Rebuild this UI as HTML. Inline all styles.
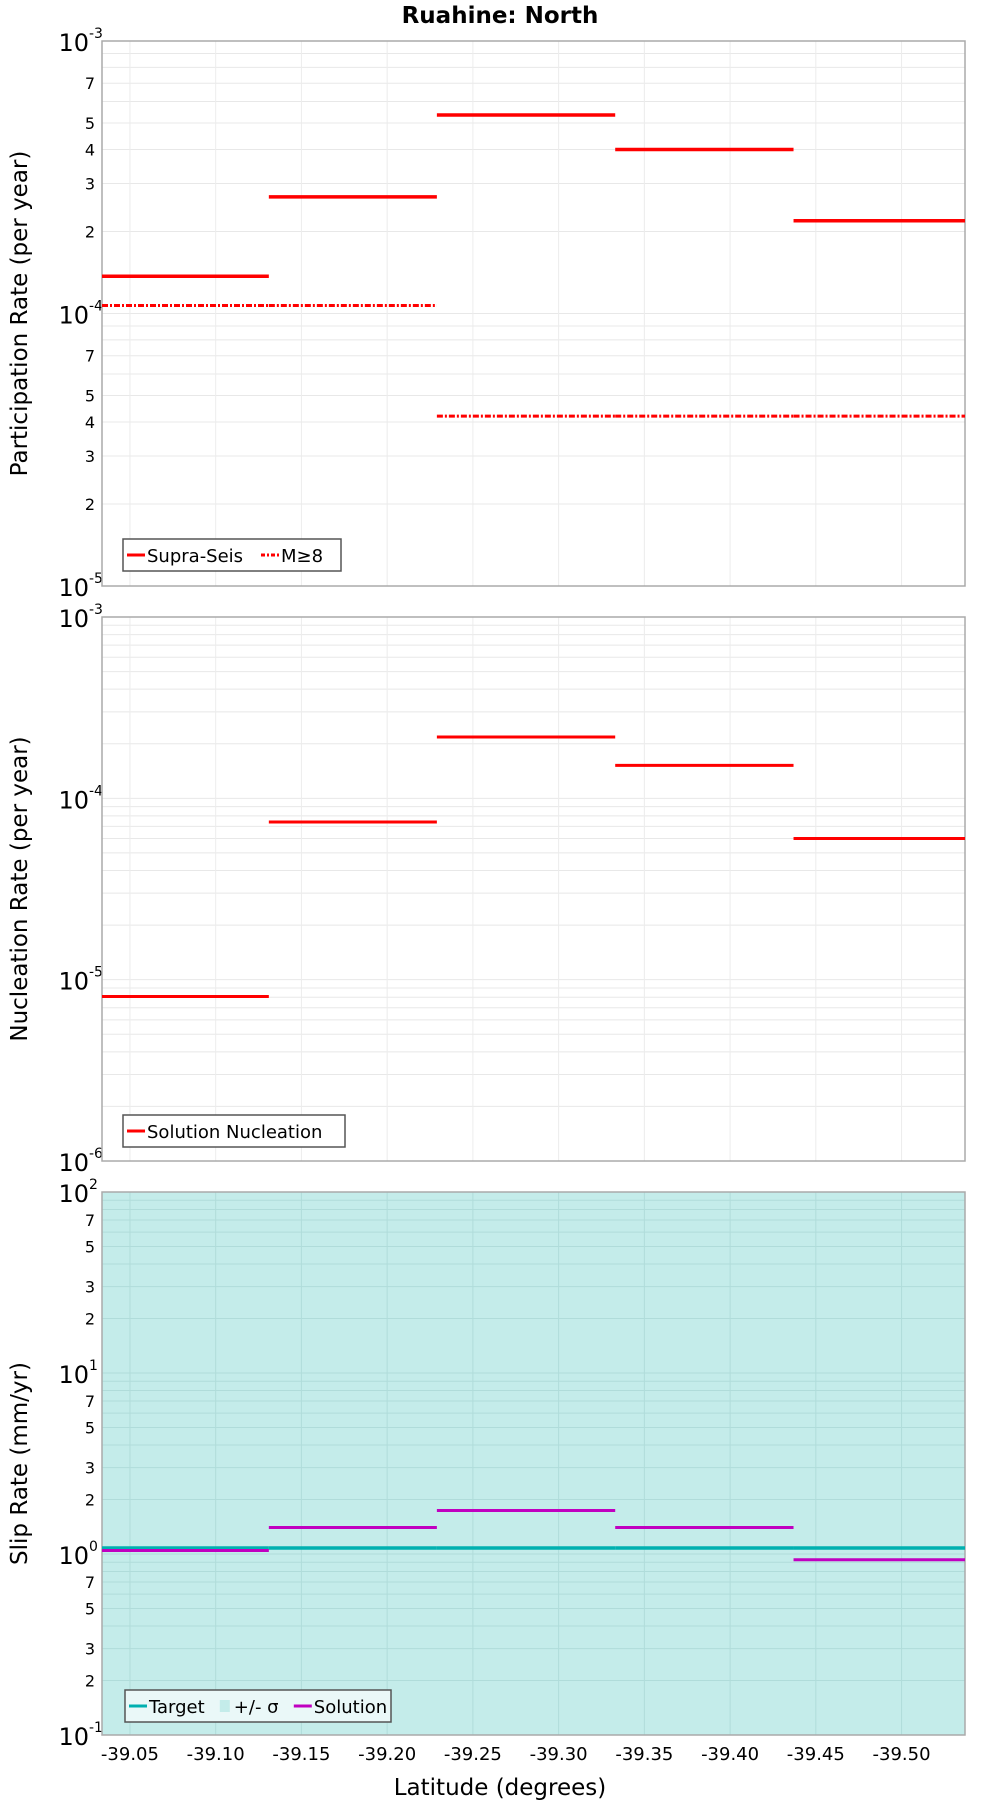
<!DOCTYPE html>
<html><head><meta charset="utf-8"><style>
body{margin:0;background:#fff;}
svg text{font-family:"DejaVu Sans","Liberation Sans",sans-serif;}
</style></head><body>
<svg id="c" width="1000" height="1800" xmlns="http://www.w3.org/2000/svg">
<text x="500" y="23" text-anchor="middle" font-size="23" font-weight="bold">Ruahine: North</text>
<text x="500" y="1795" text-anchor="middle" font-size="23">Latitude (degrees)</text>
</svg>
<script>
const binEdges=[-39.0337,-39.131,-39.229,-39.333,-39.437,-39.537];
const xTicks=[-39.05,-39.10,-39.15,-39.20,-39.25,-39.30,-39.35,-39.40,-39.45,-39.50];
const supraSeis=[1.37e-4,2.68e-4,5.35e-4,4.0e-4,2.19e-4];
const m8=[1.07e-4,1.07e-4,4.2e-5,4.2e-5,4.2e-5];
const nucleation=[8.07e-6,7.4e-5,2.18e-4,1.52e-4,6.0e-5];
const slipTarget=[1.08,1.08,1.08,1.08,1.08];
const slipSolution=[1.045,1.40,1.74,1.40,0.93];
const NS="http://www.w3.org/2000/svg";
const svg=document.getElementById('c');
const L=102,R=965;
const X0=binEdges[0],X1=binEdges[5];
function xs(v){return L+(v-X0)/(X1-X0)*(R-L);}
function mk(tag,attrs,parent){const e=document.createElementNS(NS,tag);for(const k in attrs)e.setAttribute(k,attrs[k]);(parent||svg).appendChild(e);return e;}
function panel(name,top,bot,lmin,lmax,yTitle,minorLabels,bg){
  const g=mk('g',{});
  
  
  const ys=v=>bot-(Math.log10(v)-lmin)/(lmax-lmin)*(bot-top);
  const bgr=mk('rect',{x:L,y:top,width:R-L,height:bot-top,fill:bg||'#fff'},g);
  
  
  for(let d=lmin;d<lmax;d++){for(let m=1;m<10;m++){const v=m*Math.pow(10,d);const y=ys(v);
    mk('line',{x1:L,x2:R,y1:y,y2:y,stroke:bg?'#b0dcda':'#e8e8e8','stroke-width':1},g);
    if(m>1&&minorLabels.includes(m)){const t=mk('text',{x:L-7,y:y+6,'text-anchor':'end','font-size':16},g);t.textContent=m;
      }
  }}
  for(let d=lmin;d<=lmax;d++){const y=ys(Math.pow(10,d));
    const t=mk('text',{x:L-13,y:y+10,'text-anchor':'end','font-size':24},g);t.textContent='10';
    
    const s=mk('text',{x:L-13,y:y-3,'font-size':14},g);s.textContent=d;
    }
  xTicks.forEach(v=>{const x=xs(v);mk('line',{x1:x,x2:x,y1:top,y2:bot,stroke:bg?'#b0dcda':'#ececec','stroke-width':1},g);});
  mk('rect',{x:L,y:top,width:R-L,height:bot-top,fill:'none',stroke:'#aaa','stroke-width':1.5},g);
  const cy=(top+bot)/2;
  const yt=mk('text',{x:0,y:0,'text-anchor':'middle','font-size':23,transform:`translate(27,${cy}) rotate(-90)`},g);
  yt.textContent=yTitle;
  
  return {g,ys};
}
function steps(p,vals,color,w,dash,nm){
  vals.forEach((v,i)=>{const y=p.ys(v);
    const l=mk('line',{x1:xs(binEdges[i]),x2:xs(binEdges[i+1]),y1:y,y2:y,stroke:color,'stroke-width':w},p.g);
    if(dash)l.setAttribute('stroke-dasharray',dash);
    
    });
}
function legend(p,x,y,w,items,nm,bg){
  const g=mk('g',{},p.g);
  
  
  mk('rect',{x:x,y:y,width:w,height:32,fill:bg||'#fff',stroke:'#555','stroke-width':1.5},g);
  let cx=x+4;
  items.forEach(it=>{
    if(it.box){mk('rect',{x:cx,y:y+10,width:10,height:12,fill:it.color},g);cx+=14;}
    else{const l=mk('line',{x1:cx,x2:cx+18,y1:y+16,y2:y+16,stroke:it.color,'stroke-width':3},g);if(it.dash)l.setAttribute('stroke-dasharray',it.dash);cx+=20;}
    const t=mk('text',{x:cx,y:y+23,'font-size':18},g);t.textContent=it.label;
    
    cx+=it.label.length*10.8+6;
  });
}
const p1=panel('participation',41,586,-5,-3,'Participation Rate (per year)',[2,3,4,5,7]);
steps(p1,supraSeis,'#f00',3.5,null,'supra-seis');
steps(p1,m8,'#f00',3,'6,2,2,2','m8');
legend(p1,123,539,218,[{label:'Supra-Seis',color:'#f00'},{label:'M≥8',color:'#f00',dash:'4,2,2,2'}],'participation-legend');
const p2=panel('nucleation',617,1161,-6,-3,'Nucleation Rate (per year)',[]);
steps(p2,nucleation,'#f00',3,null,'nucleation');
legend(p2,123,1115,222,[{label:'Solution Nucleation',color:'#f00'}],'nucleation-legend');
const p3=panel('slip',1192,1735,-1,2,'Slip Rate (mm/yr)',[2,3,5,7],'#c4ecea');
steps(p3,slipTarget,'#00b0b0',3.5,null,'slip-target');
steps(p3,slipSolution,'#c000c0',3,null,'slip-solution');
legend(p3,125,1690,266,[{label:'Target',color:'#00b0b0'},{label:'+/- σ',color:'#c4ecea',box:true},{label:'Solution',color:'#c000c0'}],'slip-legend','#eaf8f8');
xTicks.forEach(v=>{const t=mk('text',{x:xs(v),y:1760,'text-anchor':'middle','font-size':18});t.textContent=v.toFixed(2);
  });
</script>
</body></html>
